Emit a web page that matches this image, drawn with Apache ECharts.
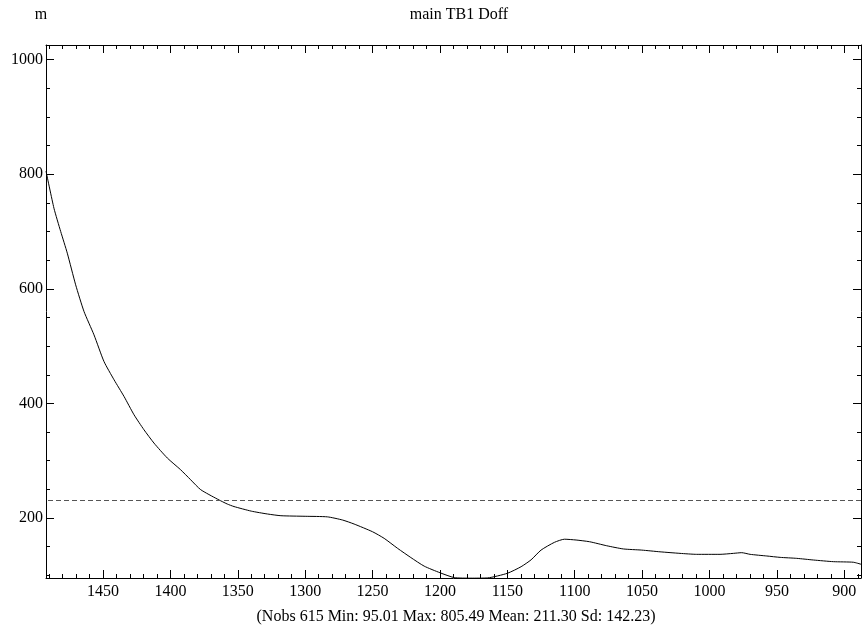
<!DOCTYPE html>
<html>
<head>
<meta charset="utf-8">
<script src="https://cdn.jsdelivr.net/npm/echarts@6/dist/echarts.min.js"></script>
<style>
html,body{margin:0;padding:0;background:#fff;}
#chart{width:863px;height:629px;}
</style>
</head>
<body>
<div id="chart"></div>
<script>
// ---- data ----
const xValues = [1492.3, 1486.4, 1481.4, 1476.5, 1470.3, 1464.1, 1456.7, 1449.3, 1441.8, 1434.4,
  1427, 1419.6, 1412.2, 1402.3, 1392.4, 1385, 1377.5, 1365.2, 1357.8, 1352.8,
  1340, 1328, 1318, 1300, 1283.5, 1272.3, 1263.7, 1250, 1241.4, 1231.4,
  1221.6, 1211.7, 1200, 1189.4, 1177, 1164.6, 1150, 1139.8, 1132.4, 1125,
  1115.1, 1107.6, 1099, 1089, 1076.3, 1063.9, 1050.3, 1036.7, 1021.9, 1009.5,
  992.2, 982.3, 976.1, 969.9, 957.5, 947.6, 935.3, 922.9, 908.1, 893.3, 887.6];
const yValues = [805.49, 740.7, 700, 662.2, 607, 560.4, 519.7, 473.2, 441.2, 412.1,
  380.2, 354, 330.8, 304.7, 284.2, 266.8, 249.4, 233.1, 224.4, 220,
  212, 207, 204, 203, 202, 196.5, 189.5, 176, 164.5, 147,
  131, 116, 104.5, 96, 95.01, 95.5, 103.5, 115, 127, 144,
  157.5, 163, 161.6, 158.6, 151.6, 146, 144, 141, 138.3, 136.6,
  136.6, 138.3, 139.5, 136.6, 133.7, 131.3, 129.6, 126.7, 123.8, 122.8, 119.3];
const refLineValue = 231.4;
const xMajorTicks = [900, 950, 1000, 1050, 1100, 1150, 1200, 1250, 1300, 1350, 1400, 1450];
const xMinorTicks = [890, 910, 920, 930, 940, 960, 970, 980, 990, 1010, 1020, 1030, 1040,
  1060, 1070, 1080, 1090, 1110, 1120, 1130, 1140, 1160, 1170, 1180, 1190, 1210, 1220, 1230, 1240,
  1260, 1270, 1280, 1290, 1310, 1320, 1330, 1340, 1360, 1370, 1380, 1390, 1410, 1420, 1430, 1440,
  1460, 1470, 1480, 1490];
const yMajorTicks = [200, 400, 600, 800, 1000];
const yMinorTicks = [100, 150, 250, 300, 350, 450, 500, 550, 650, 700, 750, 850, 900, 950];
const titleText = 'main TB1 Doff';
const unitText = 'm';
const statsText = '(Nobs 615 Min: 95.01 Max: 805.49 Mean: 211.30 Sd: 142.23)';

const X_MIN = 887.6, X_MAX = 1492.3, Y_MIN = 95.3, Y_MAX = 1025.5;
const FONT = 'Liberation Serif, Times New Roman, serif';

const seriesData = xValues.map((x, i) => [x, yValues[i]]);

function xAx(pos, ticks, len, showLine, showLabel) {
  return {
    type: 'value', position: pos, inverse: true, min: X_MIN, max: X_MAX,
    axisLine: {show: showLine, onZero: false, lineStyle: {color: '#000', width: 1}},
    axisTick: {show: true, inside: true, length: len, customValues: ticks, lineStyle: {color: '#000', width: 1}},
    axisLabel: {show: showLabel, customValues: ticks, margin: 6, color: '#000', fontFamily: FONT, fontSize: 16,
      formatter: v => String(v)},
    splitLine: {show: false}
  };
}
function yAx(pos, ticks, len, showLine, showLabel) {
  return {
    type: 'value', position: pos, min: Y_MIN, max: Y_MAX,
    axisLine: {show: showLine, onZero: false, lineStyle: {color: '#000', width: 1}},
    axisTick: {show: true, inside: true, length: len, customValues: ticks, lineStyle: {color: '#000', width: 1}},
    axisLabel: {show: showLabel, customValues: ticks, margin: 3, color: '#000', fontFamily: FONT, fontSize: 16,
      formatter: v => String(v)},
    splitLine: {show: false}
  };
}

const chart = echarts.init(document.getElementById('chart'), null, {renderer: 'canvas'});
chart.setOption({
  animation: false,
  backgroundColor: '#fff',
  grid: {left: 46, right: 2, top: 45, bottom: 51, containLabel: false, outerBoundsMode: 'none'},
  xAxis: [
    xAx('bottom', xMajorTicks, 8, true, true),
    xAx('bottom', xMinorTicks, 4, false, false),
    xAx('top', xMajorTicks, 8, true, false),
    xAx('top', xMinorTicks, 4, false, false)
  ],
  yAxis: [
    yAx('left', yMajorTicks, 8, true, true),
    yAx('left', yMinorTicks, 4, false, false),
    yAx('right', yMajorTicks, 8, true, false),
    yAx('right', yMinorTicks, 4, false, false)
  ],
  graphic: [
    {type: 'text', x: 459, y: 15, style: {text: titleText, textAlign: 'center', textVerticalAlign: 'middle', font: '16px ' + FONT, fill: '#000'}},
    {type: 'text', x: 41, y: 15, style: {text: unitText, textAlign: 'center', textVerticalAlign: 'middle', font: '16px ' + FONT, fill: '#000'}},
    {type: 'text', x: 456, y: 617, style: {text: statsText, textAlign: 'center', textVerticalAlign: 'middle', font: '16px ' + FONT, fill: '#000'}}
  ],
  series: [{
    type: 'line',
    xAxisIndex: 0, yAxisIndex: 0,
    data: seriesData,
    showSymbol: false,
    symbol: 'none',
    smooth: 0.2,
    lineStyle: {color: '#000', width: 1},
    silent: true,
    markLine: {
      silent: true, symbol: 'none', label: {show: false},
      lineStyle: {color: '#555', width: 1, type: [5, 3]},
      data: [{yAxis: refLineValue}]
    }
  }]
});
</script>
</body>
</html>
